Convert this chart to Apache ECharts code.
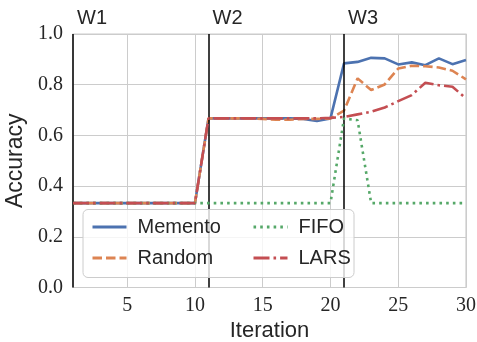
<!DOCTYPE html>
<html>
<head>
<meta charset="utf-8">
<script src="https://cdn.jsdelivr.net/npm/echarts@6/dist/echarts.min.js"></script>
<style>
  html, body { margin: 0; padding: 0; background: #ffffff; }
  #chart { width: 477px; height: 342px; }
</style>
</head>
<body>
<div id="chart"></div>
<script>
// Iterations 1..30
const iterations = Array.from({ length: 30 }, (_, i) => i + 1);

// Accuracy per iteration for each replay strategy
const memento = [
  0.333, 0.333, 0.333, 0.333, 0.333, 0.333, 0.333, 0.333, 0.333, 0.333,
  0.667, 0.667, 0.667, 0.667, 0.667, 0.667, 0.667, 0.665, 0.657, 0.667,
  0.884, 0.890, 0.906, 0.904, 0.880, 0.888, 0.877, 0.904, 0.881, 0.897
];
const random = [
  0.333, 0.333, 0.333, 0.333, 0.333, 0.333, 0.333, 0.333, 0.333, 0.333,
  0.667, 0.667, 0.667, 0.667, 0.665, 0.662, 0.662, 0.665, 0.665, 0.667,
  0.698, 0.825, 0.779, 0.801, 0.864, 0.875, 0.873, 0.868, 0.855, 0.821
];
const fifo = [
  0.333, 0.333, 0.333, 0.333, 0.333, 0.333, 0.333, 0.333, 0.333, 0.333,
  0.333, 0.333, 0.333, 0.333, 0.333, 0.333, 0.333, 0.333, 0.333, 0.333,
  0.667, 0.660, 0.333, 0.333, 0.333, 0.333, 0.333, 0.333, 0.333, 0.333
];
const lars = [
  0.333, 0.333, 0.333, 0.333, 0.333, 0.333, 0.333, 0.333, 0.333, 0.333,
  0.667, 0.667, 0.667, 0.667, 0.667, 0.667, 0.667, 0.667, 0.667, 0.669,
  0.673, 0.683, 0.693, 0.710, 0.735, 0.759, 0.808, 0.798, 0.792, 0.746
];

// Window boundaries and their labels
const windowStarts = [1, 11, 21];
const windowLabels = ['W1', 'W2', 'W3'];

const xTicks = [5, 10, 15, 20, 25, 30];

const colors = {
  Memento: '#4C72B0',
  Random: '#DD8452',
  FIFO: '#55A868',
  LARS: '#C44E52'
};

const textColor = '#262626';
const gridColor = '#cccccc';
const sansFont = '"Liberation Sans", Arial, sans-serif';
const serifFont = '"Liberation Serif", "DejaVu Serif", serif';

const pair = arr => iterations.map((x, i) => [x, arr[i]]);

function lineSeries(name, values, dash, z) {
  return {
    name: name,
    type: 'line',
    data: pair(values),
    symbol: 'none',
    showSymbol: false,
    z: z,
    lineStyle: { color: colors[name], width: 2.6, type: dash, cap: 'butt' },
    itemStyle: { color: colors[name] },
    emphasis: { disabled: true }
  };
}

const chart = echarts.init(document.getElementById('chart'), null, { renderer: 'canvas' });

const legendText = { color: textColor, fontFamily: sansFont, fontSize: 20, padding: [0, 0, 0, 6] };

// Legend keys show only the line sample, no marker
const legendBase = {
  orient: 'vertical',
  top: 217,
  padding: 0,
  itemWidth: 34, itemHeight: 14, itemGap: 11,
  itemStyle: { opacity: 0 },
  lineStyle: { width: 3 },
  textStyle: legendText,
  z: 20
};

chart.setOption({
  animation: false,
  backgroundColor: '#ffffff',
  grid: {
    left: 73, right: 11, top: 34, bottom: 54.5,
    containLabel: false,
    outerBoundsMode: 'none',
    show: true, borderColor: gridColor, borderWidth: 1.2, backgroundColor: 'transparent'
  },
  xAxis: {
    type: 'value',
    min: 1, max: 30,
    name: 'Iteration',
    nameLocation: 'middle',
    nameGap: 31,
    nameTextStyle: { color: textColor, fontFamily: sansFont, fontSize: 22 },
    axisLine: { show: false },
    axisTick: { show: false, customValues: xTicks },
    axisLabel: {
      customValues: xTicks,
      color: textColor, fontFamily: serifFont, fontSize: 20, margin: 8
    },
    splitLine: { show: true, lineStyle: { color: gridColor, width: 1 } }
  },
  yAxis: {
    type: 'value',
    min: 0, max: 1, interval: 0.2,
    name: 'Accuracy',
    nameLocation: 'middle',
    nameGap: 39,
    nameTextStyle: { color: textColor, fontFamily: sansFont, fontSize: 23 },
    axisLine: { show: false },
    axisTick: { show: false },
    axisLabel: {
      formatter: v => v.toFixed(1),
      color: textColor, fontFamily: serifFont, fontSize: 20, margin: 10
    },
    splitLine: { show: true, lineStyle: { color: gridColor, width: 1 } }
  },
  legend: [
    Object.assign({}, legendBase, { data: ['Memento', 'Random'], left: 91 }),
    Object.assign({}, legendBase, { data: ['FIFO', 'LARS'], left: 252 })
  ],
  graphic: [
    {
      id: 'legendFrame',
      type: 'rect',
      z: 15,
      shape: { x: 83, y: 209.5, width: 271, height: 68, r: 5 },
      style: { fill: 'rgba(255,255,255,0.8)', stroke: gridColor, lineWidth: 1 }
    }
  ],
  series: [
    {
      name: 'windows',
      type: 'line',
      data: [],
      z: 1,
      silent: true,
      markLine: {
        symbol: 'none',
        silent: true,
        animation: false,
        label: { show: false },
        lineStyle: { color: '#000000', width: 1.5, type: 'solid' },
        emphasis: { disabled: true },
        data: windowStarts.map(x => ({ xAxis: x }))
      }
    },
    lineSeries('Memento', memento, 'solid', 3),
    lineSeries('Random', random, [9.5, 4], 4),
    lineSeries('FIFO', fifo, [2.6, 4.1], 5),
    lineSeries('LARS', lars, [16, 4, 2.6, 4], 6)
  ]
});

// Window labels sit above the plot, left-aligned with each boundary line
const topY = chart.convertToPixel({ gridIndex: 0 }, [1, 1])[1];
chart.setOption({
  graphic: windowStarts.map((x, i) => ({
    id: 'win' + i,
    type: 'text',
    z: 20,
    x: chart.convertToPixel({ gridIndex: 0 }, [x, 1])[0] + 4,
    y: topY - 6,
    style: {
      text: windowLabels[i],
      fill: textColor,
      font: '20px ' + sansFont,
      textAlign: 'left',
      textVerticalAlign: 'bottom'
    }
  }))
});
</script>
</body>
</html>
